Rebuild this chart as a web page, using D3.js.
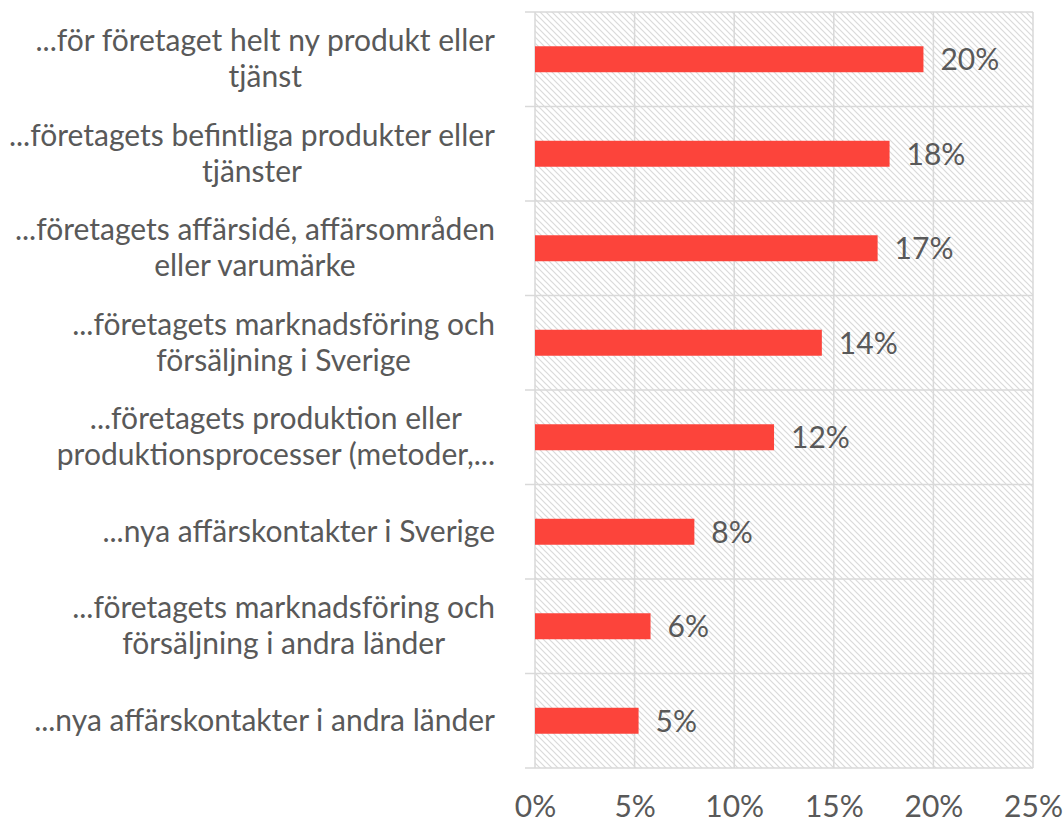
<!DOCTYPE html>
<html>
<head>
<meta charset="utf-8">
<script src="https://cdn.jsdelivr.net/npm/d3@7"></script>
<style>
    body { margin: 0; background: #fff; }
    svg text { font-family: Lato, "Noto Sans", sans-serif; fill: #595959; }
</style>
</head>
<body>
<div id="chart"></div>
<script>
    const categories = [
        ["...för företaget helt ny produkt eller", "tjänst"],
        ["...företagets befintliga produkter eller", "tjänster"],
        ["...företagets affärsidé, affärsområden", "eller varumärke"],
        ["...företagets marknadsföring och", "försäljning i Sverige"],
        ["...företagets produktion eller", "produktionsprocesser (metoder,..."],
        ["...nya affärskontakter i Sverige"],
        ["...företagets marknadsföring och", "försäljning i andra länder"],
        ["...nya affärskontakter i andra länder"]
    ];
    const values = [0.195, 0.178, 0.172, 0.144, 0.120, 0.080, 0.058, 0.052];
    const valueLabels = ["20%", "18%", "17%", "14%", "12%", "8%", "6%", "5%"];
    const ticks = [0, 0.05, 0.10, 0.15, 0.20, 0.25];

    const width = 1063, height = 822;
    const margin = { top: 12, right: 30, bottom: 54, left: 535 };
    const fontSize = 30;

    const svg = d3.select("#chart")
        .append("svg")
        .attr("width", width)
        .attr("height", height);

    const defs = svg.append("defs");
    const pat = defs.append("pattern")
        .attr("id", "hatch")
        .attr("patternUnits", "userSpaceOnUse")
        .attr("width", 6)
        .attr("height", 6);
    pat.append("rect").attr("width", 6).attr("height", 6).attr("fill", "#fff");
    pat.append("path")
        .attr("d", "M-1,-1 L7,7 M-1,5 L1,7 M5,-1 L7,1")
        .attr("stroke", "#dadada")
        .attr("stroke-width", 1.2);

    const x = d3.scaleLinear()
        .domain([0, 0.25])
        .range([margin.left, width - margin.right]);

    const y = d3.scaleBand()
        .domain(d3.range(categories.length))
        .range([margin.top, height - margin.bottom])
        .paddingInner(0.725)
        .paddingOuter(0.3625);

    // plot background
    svg.append("rect")
        .attr("x", x(0))
        .attr("y", margin.top)
        .attr("width", x(0.25) - x(0))
        .attr("height", height - margin.bottom - margin.top)
        .attr("fill", "url(#hatch)");

    // vertical gridlines
    svg.append("g")
        .selectAll("line")
        .data(ticks)
        .enter().append("line")
        .attr("x1", d => x(d)).attr("x2", d => x(d))
        .attr("y1", margin.top).attr("y2", height - margin.bottom)
        .attr("stroke", "#d9d9d9")
        .attr("stroke-width", 1.5);

    // category separators (with small ticks to the left)
    const step = y.step();
    svg.append("g")
        .selectAll("line")
        .data(d3.range(categories.length + 1))
        .enter().append("line")
        .attr("x1", x(0) - 10).attr("x2", x(0.25))
        .attr("y1", d => margin.top + d * step)
        .attr("y2", d => margin.top + d * step)
        .attr("stroke", "#d9d9d9")
        .attr("stroke-width", 1.5);

    // bars
    svg.selectAll(".bar")
        .data(values)
        .enter().append("rect")
        .attr("class", "bar")
        .attr("x", x(0))
        .attr("y", (d, i) => y(i))
        .attr("width", d => x(d) - x(0))
        .attr("height", y.bandwidth())
        .attr("fill", "#fc443b");

    // value labels
    svg.selectAll(".val")
        .data(values)
        .enter().append("text")
        .attr("class", "val")
        .attr("x", d => x(d) + 17)
        .attr("y", (d, i) => y(i) + y.bandwidth() / 2)
        .attr("dy", "0.36em")
        .style("font-size", fontSize + "px")
        .text((d, i) => valueLabels[i]);

    // x axis tick labels
    const xAxis = svg.append("g")
        .attr("transform", `translate(0,${height - margin.bottom})`)
        .call(d3.axisBottom(x).tickValues(ticks).tickFormat(d3.format(".0%")).tickSize(0).tickPadding(28));
    xAxis.select(".domain").remove();
    xAxis.selectAll("text")
        .attr("fill", "#595959")
        .style("font-size", fontSize + "px")
        .style("font-family", "Lato, 'Noto Sans', sans-serif");

    // category labels, wrapped lines centred within the block, block right aligned
    const labelRight = 495;
    const lineH = 36;
    const lab = svg.append("g")
        .selectAll("text")
        .data(categories)
        .enter().append("text")
        .style("font-size", fontSize + "px")
        .attr("text-anchor", "middle")
        .attr("y", (d, i) => y(i) + y.bandwidth() / 2);

    lab.each(function (lines) {
        const t = d3.select(this);
        lines.forEach((s, k) => {
            t.append("tspan")
                .attr("dy", k === 0 ? ((-(lines.length - 1) / 2) * lineH + 10) + "px" : lineH + "px")
                .text(s);
        });
        let w = 0;
        t.selectAll("tspan").each(function () {
            w = Math.max(w, this.getComputedTextLength());
        });
        const cx = labelRight - w / 2;
        t.selectAll("tspan").attr("x", cx);
    });
</script>
</body>
</html>
